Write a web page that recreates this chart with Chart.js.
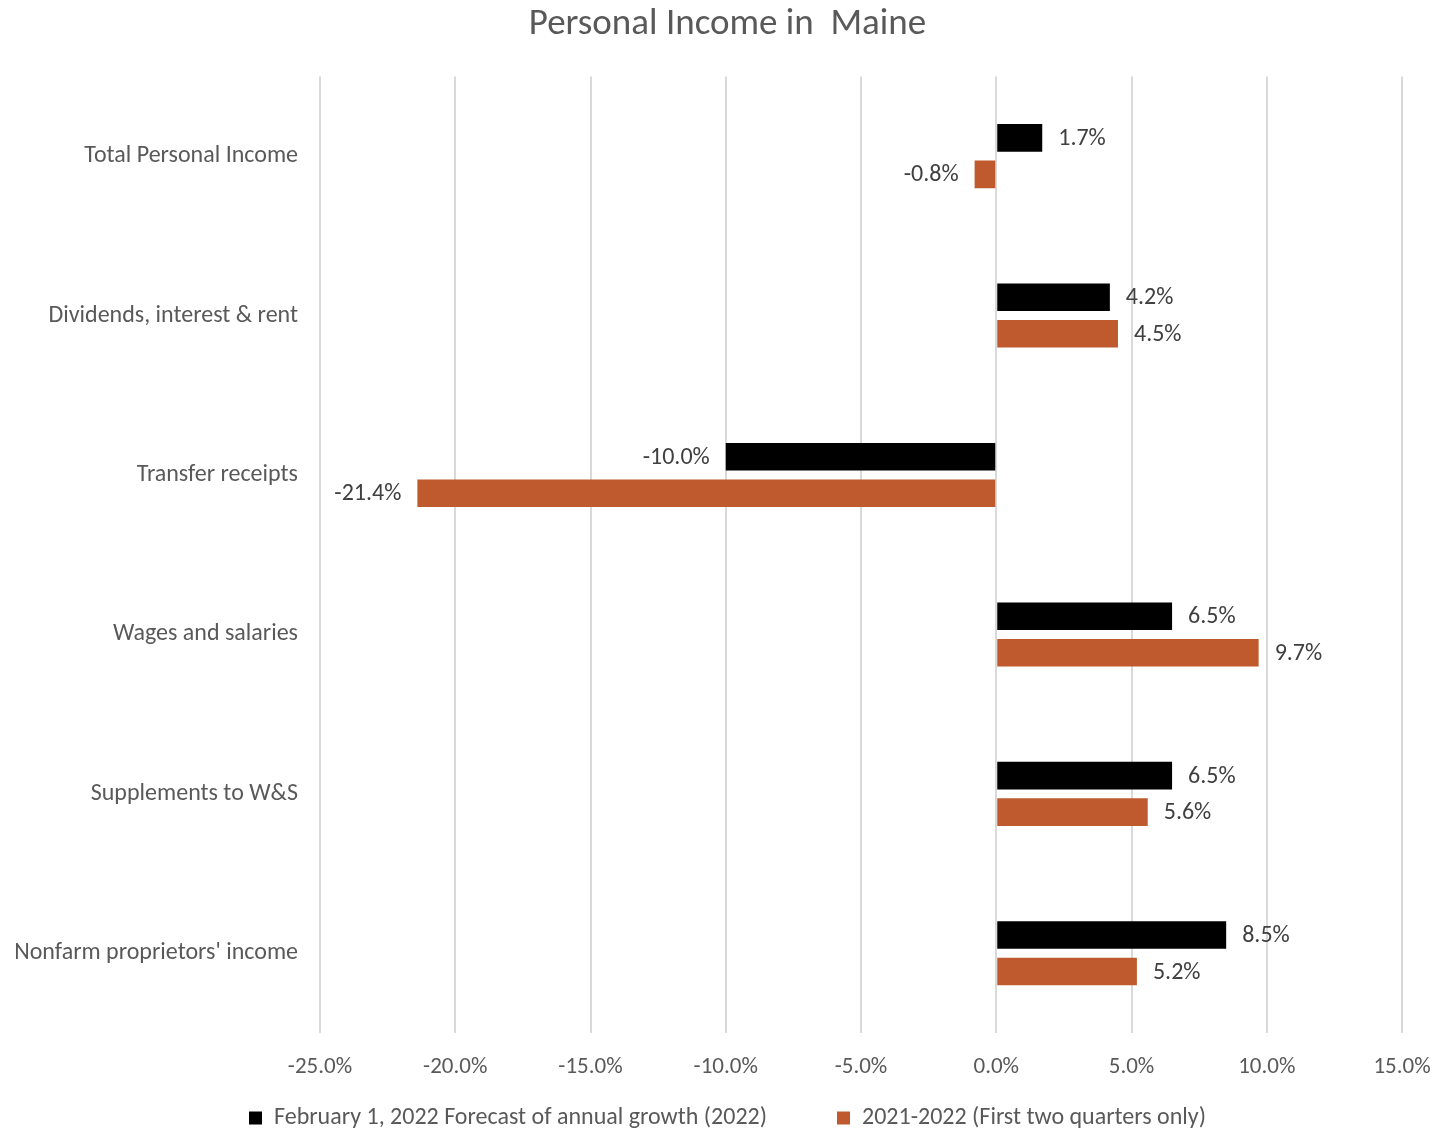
<!DOCTYPE html>
<html>
<head>
<meta charset="utf-8">
<script src="https://cdn.jsdelivr.net/npm/chart.js@4"></script>
<style>
  html, body { margin: 0; padding: 0; background: #ffffff; }
  #wrap { width: 1455px; height: 1130px; position: relative; }
</style>
</head>
<body>
<div id="wrap"><canvas id="c" width="1455" height="1130"></canvas></div>
<script>
const categories = [
  "Total Personal Income",
  "Dividends, interest & rent",
  "Transfer receipts",
  "Wages and salaries",
  "Supplements to W&S",
  "Nonfarm proprietors' income"
];
const forecastLabel = "February 1, 2022 Forecast of annual growth (2022)";
const forecastValues = [1.7, 4.2, -10.0, 6.5, 6.5, 8.5];
const halfYearLabel = "2021-2022 (First two quarters only)";
const halfYearValues = [-0.8, 4.5, -21.4, 9.7, 5.6, 5.2];
const xTicks = [-25, -20, -15, -10, -5, 0, 5, 10, 15];

const FONT = "Carlito, Calibri, Lato, 'Open Sans', sans-serif";
const GREY = "#595959";

const valueLabels = {
  id: 'valueLabels',
  afterDatasetsDraw(chart) {
    const ctx = chart.ctx;
    ctx.save();
    ctx.font = "24px " + FONT;
    ctx.fillStyle = "#404040";
    ctx.textBaseline = "middle";
    chart.data.datasets.forEach((ds, di) => {
      const meta = chart.getDatasetMeta(di);
      meta.data.forEach((bar, i) => {
        const v = ds.data[i];
        const txt = v.toFixed(1) + "%";
        if (v >= 0) {
          ctx.textAlign = "left";
          ctx.fillText(txt, bar.x + 16, bar.y + 1);
        } else {
          ctx.textAlign = "right";
          ctx.fillText(txt, bar.x - 16, bar.y + 1);
        }
      });
    });
    ctx.restore();
  }
};

new Chart(document.getElementById('c'), {
  type: 'bar',
  data: {
    labels: categories,
    datasets: [
      { label: forecastLabel, data: forecastValues, backgroundColor: "#000000",
        borderWidth: 0 },
      { label: halfYearLabel, data: halfYearValues, backgroundColor: "#BE5A2D",
        borderWidth: 0 }
    ]
  },
  options: {
    indexAxis: 'y',
    responsive: false,
    animation: false,
    devicePixelRatio: 1,
    categoryPercentage: 0.458,
    barPercentage: 0.755,
    layout: { padding: { left: 0, right: 0, top: 0, bottom: -10 } },
    scales: {
      x: {
        min: -25, max: 15,
        afterBuildTicks(scale) { scale.ticks = xTicks.map(v => ({ value: v })); },
        ticks: {
          callback: v => Number(v).toFixed(1) + "%",
          color: GREY,
          font: { family: FONT, size: 23 },
          padding: 20,
          maxRotation: 0,
          autoSkip: false
        },
        grid: { color: "#d9d9d9", lineWidth: 2, drawTicks: false },
        border: { display: false },
        afterFit(scale) { scale.height = 63; }
      },
      y: {
        ticks: {
          color: GREY,
          font: { family: FONT, size: 24 },
          padding: 22
        },
        grid: { display: false, drawTicks: false },
        border: { display: false },
        afterFit(scale) { scale.width = 320; }
      },
      yRight: {
        type: 'linear',
        axis: 'y',
        position: 'right',
        display: true,
        ticks: { display: false },
        grid: { display: false, drawTicks: false },
        border: { display: false },
        afterFit(scale) { scale.width = 53; }
      }
    },
    plugins: {
      title: {
        display: true,
        text: "Personal Income in  Maine",
        color: GREY,
        font: { family: FONT, size: 37, weight: 'normal' },
        padding: { top: 3, bottom: 29 }
      },
      legend: {
        position: 'bottom',
        labels: {
          color: GREY,
          font: { family: FONT, size: 24 },
          boxWidth: 13,
          boxHeight: 13,
          padding: 10,
          generateLabels(chart) {
            const items = Chart.defaults.plugins.legend.labels.generateLabels(chart);
            items.forEach((it, i) => {
              if (i < items.length - 1) it.text = it.text + "\u2003\u2003\u2002";
            });
            return items;
          }
        }
      },
      tooltip: { enabled: false }
    }
  },
  plugins: [valueLabels]
});
</script>
</body>
</html>
